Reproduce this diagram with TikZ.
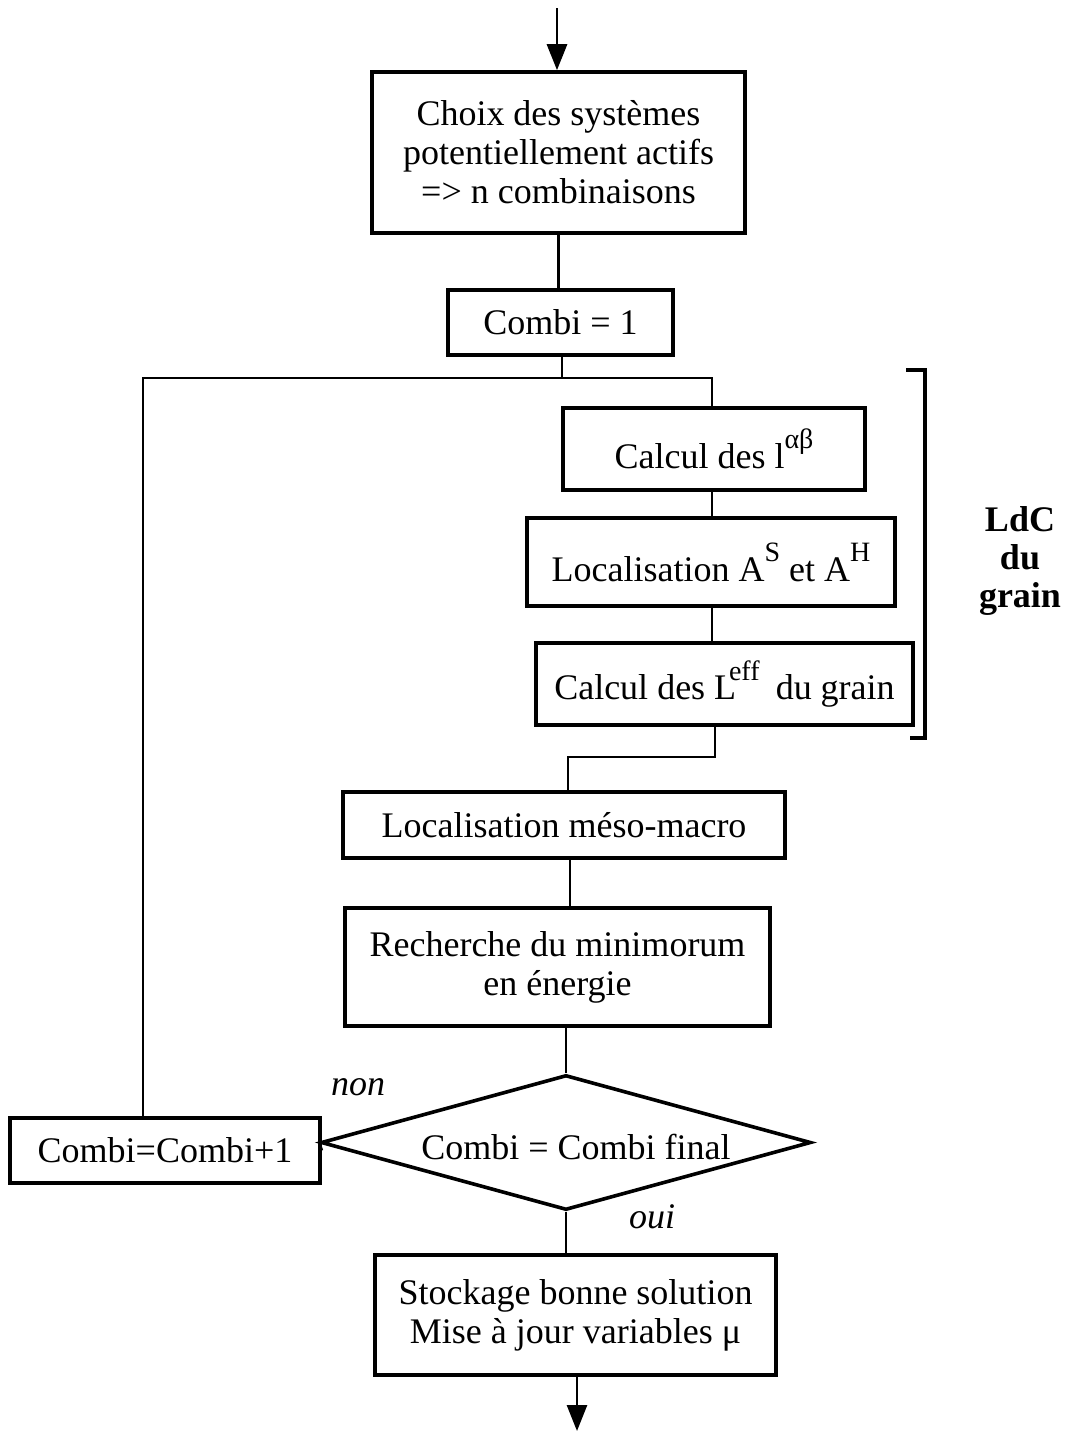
\documentclass[tikz,border=0pt]{standalone}
\usepackage{fontspec}
\setmainfont{Liberation Serif}
\usetikzlibrary{shapes.geometric,arrows.meta}
\newcommand{\supr}[1]{\raisebox{0.55em}{\fontsize{14pt}{14pt}\selectfont #1}}
\begin{document}
\begin{tikzpicture}[x=0.5pt,y=-0.5pt,
  every node/.style={font=\fontsize{18pt}{19.5pt}\selectfont},
  box/.style={draw,line width=1.8pt,inner sep=0pt,align=center},
  conn/.style={line width=1.4pt},
  arr/.style={line width=1.4pt,-{Triangle[length=13pt,width=10pt]}},
  lbl/.style={font=\fontsize{18pt}{19.5pt}\selectfont\itshape}
]
\useasboundingbox (0,0) rectangle (1066,1432);

\node[box,minimum width=186.5pt,minimum height=80.5pt] (choix) at (558.5,152.5)
  {Choix des systèmes\\potentiellement actifs\\=> n combinaisons};
\node[box,minimum width=112.5pt,minimum height=32.5pt] (combi1) at (560.5,322.5) {Combi = 1};
\node[box,minimum width=151pt,minimum height=41pt] (calcl) at (714,449)
  {Calcul des l\supr{αβ}};
\node[box,minimum width=184pt,minimum height=44pt] (loc) at (711,562)
  {Localisation A\supr{S} et A\supr{H}};
\node[box,minimum width=188.5pt,minimum height=41pt] (leff) at (724.5,684)
  {Calcul des L\kern-0.2em\supr{eff}\hspace{0.45em}du grain};
\node[box,minimum width=221pt,minimum height=33pt] (meso) at (564,825)
  {Localisation méso-macro};
\node[box,minimum width=212.5pt,minimum height=59pt] (rech) at (557.5,967)
  {Recherche du minimorum\\en énergie};
\node[draw,line width=1.8pt,shape=diamond,inner sep=0pt,minimum width=245pt,minimum height=67.5pt] (dia) at (566,1142.5) {};
\node (dtext) at (576,1147) {Combi = Combi final};
\node[box,minimum width=155pt,minimum height=32.5pt] (combiplus) at (165,1150.5) {Combi=Combi+1};
\node[box,minimum width=200.5pt,minimum height=60pt] (stock) at (575.5,1315)
  {Stockage bonne solution\\Mise à jour variables μ};

\node[font=\fontsize{18pt}{19pt}\selectfont\bfseries,align=center] (ldc) at (1020,561) {LdC\\du\\grain};
\node[lbl] (non) at (358,1087) {non};
\node[lbl] (oui) at (652,1217) {oui};

\coordinate (in) at (557,8);
\coordinate (out) at (577,1431);
\coordinate (cL) at (143,378);
\coordinate (cR) at (712,378);
\coordinate (j2a) at (715,757);
\coordinate (j2b) at (568,757);
\coordinate (cx) at (570,0);
\coordinate (bt1) at (906,370);
\coordinate (bt2) at (925,370);
\coordinate (bb1) at (910,738);
\coordinate (bb2) at (925,738);

\draw[arr] (in) -- (in |- choix.north);
\draw[conn] (choix.south) -- (choix.south |- combi1.north);
\draw[conn] (combi1.south -| 562,0) -- (562,378);
\draw[conn] (combiplus.north -| cL) -- (cL) -- (cR) -- (cR |- calcl.north);
\draw[conn] (cR |- calcl.south) -- (cR |- loc.north);
\draw[conn] (cR |- loc.south) -- (cR |- leff.north);
\draw[conn] (j2a |- leff.south) -- (j2a) -- (j2b) -- (j2b |- meso.north);
\draw[conn] (cx |- meso.south) -- (cx |- rech.north);
\draw[conn] (rech.south -| dia.north) -- (dia.north);
\draw[conn] (dia.south) -- (dia.south |- stock.north);
\draw[conn] (dia.west) -- (combiplus.east);
\draw[arr] (out |- stock.south) -- (out);
\draw[line width=2pt] (bt1) -- (bt2) -- (bb2) -- (bb1);
\end{tikzpicture}
\end{document}
